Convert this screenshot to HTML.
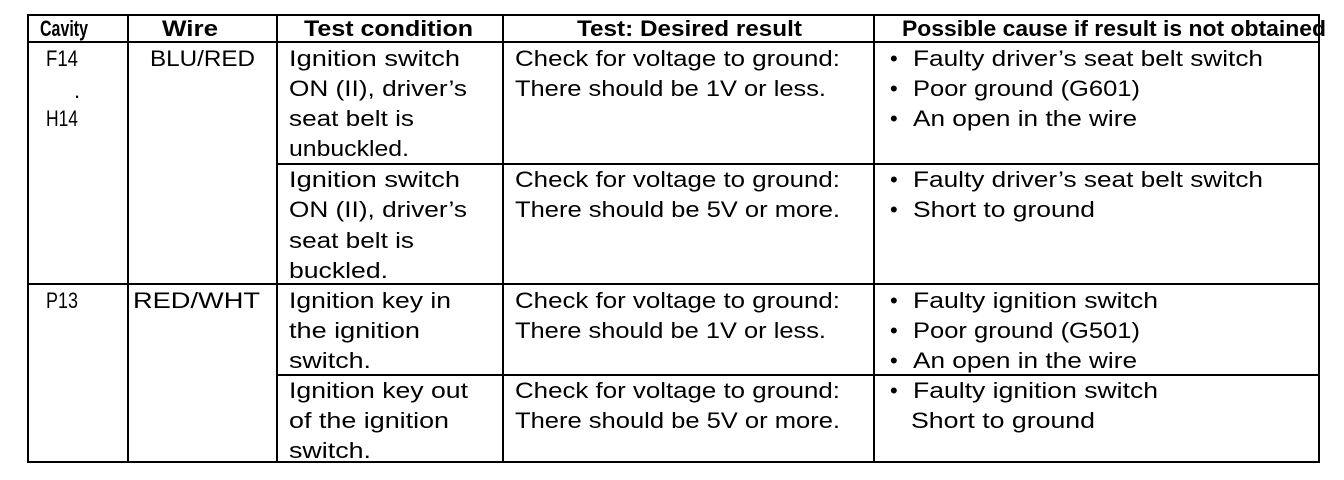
<!DOCTYPE html>
<html><head><style>
html,body{margin:0;padding:0;background:#fff;}
svg{display:block;}
text{font-family:"Liberation Sans",sans-serif;font-size:22px;fill:#000;}
.h{font-weight:bold;}
</style></head><body>
<svg width="1344" height="480" viewBox="0 0 1344 480">
<g stroke="#000" stroke-width="2" fill="none">
<rect x="28" y="15" width="1291" height="447"/>
<line x1="28" y1="42" x2="1319" y2="42"/>
<line x1="128" y1="15" x2="128" y2="462"/>
<line x1="277" y1="15" x2="277" y2="462"/>
<line x1="503" y1="15" x2="503" y2="462"/>
<line x1="874" y1="15" x2="874" y2="462"/>
<line x1="277" y1="164" x2="1319" y2="164"/>
<line x1="28" y1="284" x2="1319" y2="284"/>
<line x1="277" y1="375" x2="1319" y2="375"/>
</g>
<g lengthAdjust="spacingAndGlyphs">
<text class="h" x="40" y="36" textLength="48" lengthAdjust="spacingAndGlyphs">Cavity</text>
<text class="h" x="162" y="36" textLength="56" lengthAdjust="spacingAndGlyphs">Wire</text>
<text class="h" x="304" y="36" textLength="169" lengthAdjust="spacingAndGlyphs">Test condition</text>
<text class="h" x="577" y="36" textLength="225" lengthAdjust="spacingAndGlyphs">Test: Desired result</text>
<text class="h" x="902" y="36" textLength="424" lengthAdjust="spacingAndGlyphs">Possible cause if result is not obtained</text>

<text x="46" y="66" textLength="32" lengthAdjust="spacingAndGlyphs">F14</text>
<text x="74" y="98">.</text>
<text x="46" y="126" textLength="32" lengthAdjust="spacingAndGlyphs">H14</text>
<text x="150" y="66" textLength="105" lengthAdjust="spacingAndGlyphs">BLU/RED</text>
<text x="46" y="308" textLength="32" lengthAdjust="spacingAndGlyphs">P13</text>
<text x="133" y="308" textLength="127" lengthAdjust="spacingAndGlyphs">RED/WHT</text>

<text x="289" y="66" textLength="171" lengthAdjust="spacingAndGlyphs">Ignition switch</text>
<text x="289" y="96" textLength="178" lengthAdjust="spacingAndGlyphs">ON (II), driver’s</text>
<text x="289" y="126" textLength="125" lengthAdjust="spacingAndGlyphs">seat belt is</text>
<text x="289" y="156" textLength="120" lengthAdjust="spacingAndGlyphs">unbuckled.</text>
<text x="289" y="187" textLength="171" lengthAdjust="spacingAndGlyphs">Ignition switch</text>
<text x="289" y="217" textLength="178" lengthAdjust="spacingAndGlyphs">ON (II), driver’s</text>
<text x="289" y="248" textLength="125" lengthAdjust="spacingAndGlyphs">seat belt is</text>
<text x="289" y="278" textLength="99" lengthAdjust="spacingAndGlyphs">buckled.</text>
<text x="289" y="308" textLength="162" lengthAdjust="spacingAndGlyphs">Ignition key in</text>
<text x="289" y="338" textLength="131" lengthAdjust="spacingAndGlyphs">the ignition</text>
<text x="289" y="368" textLength="82" lengthAdjust="spacingAndGlyphs">switch.</text>
<text x="289" y="398" textLength="179" lengthAdjust="spacingAndGlyphs">Ignition key out</text>
<text x="289" y="428" textLength="160" lengthAdjust="spacingAndGlyphs">of the ignition</text>
<text x="289" y="458" textLength="82" lengthAdjust="spacingAndGlyphs">switch.</text>

<text x="515" y="66" textLength="325" lengthAdjust="spacingAndGlyphs">Check for voltage to ground:</text>
<text x="515" y="96" textLength="311" lengthAdjust="spacingAndGlyphs">There should be 1V or less.</text>
<text x="515" y="187" textLength="325" lengthAdjust="spacingAndGlyphs">Check for voltage to ground:</text>
<text x="515" y="217" textLength="325" lengthAdjust="spacingAndGlyphs">There should be 5V or more.</text>
<text x="515" y="308" textLength="325" lengthAdjust="spacingAndGlyphs">Check for voltage to ground:</text>
<text x="515" y="338" textLength="311" lengthAdjust="spacingAndGlyphs">There should be 1V or less.</text>
<text x="515" y="398" textLength="325" lengthAdjust="spacingAndGlyphs">Check for voltage to ground:</text>
<text x="515" y="428" textLength="325" lengthAdjust="spacingAndGlyphs">There should be 5V or more.</text>

<text x="890" y="66">•</text><text x="913" y="66" textLength="350" lengthAdjust="spacingAndGlyphs">Faulty driver’s seat belt switch</text>
<text x="890" y="96">•</text><text x="913" y="96" textLength="227" lengthAdjust="spacingAndGlyphs">Poor ground (G601)</text>
<text x="890" y="126">•</text><text x="913" y="126" textLength="224" lengthAdjust="spacingAndGlyphs">An open in the wire</text>
<text x="890" y="187">•</text><text x="913" y="187" textLength="350" lengthAdjust="spacingAndGlyphs">Faulty driver’s seat belt switch</text>
<text x="890" y="217">•</text><text x="913" y="217" textLength="182" lengthAdjust="spacingAndGlyphs">Short to ground</text>
<text x="890" y="308">•</text><text x="913" y="308" textLength="245" lengthAdjust="spacingAndGlyphs">Faulty ignition switch</text>
<text x="890" y="338">•</text><text x="913" y="338" textLength="227" lengthAdjust="spacingAndGlyphs">Poor ground (G501)</text>
<text x="890" y="368">•</text><text x="913" y="368" textLength="224" lengthAdjust="spacingAndGlyphs">An open in the wire</text>
<text x="890" y="398">•</text><text x="913" y="398" textLength="245" lengthAdjust="spacingAndGlyphs">Faulty ignition switch</text>
<text x="911" y="428" textLength="184" lengthAdjust="spacingAndGlyphs">Short to ground</text>
</g>
</svg>
</body></html>
